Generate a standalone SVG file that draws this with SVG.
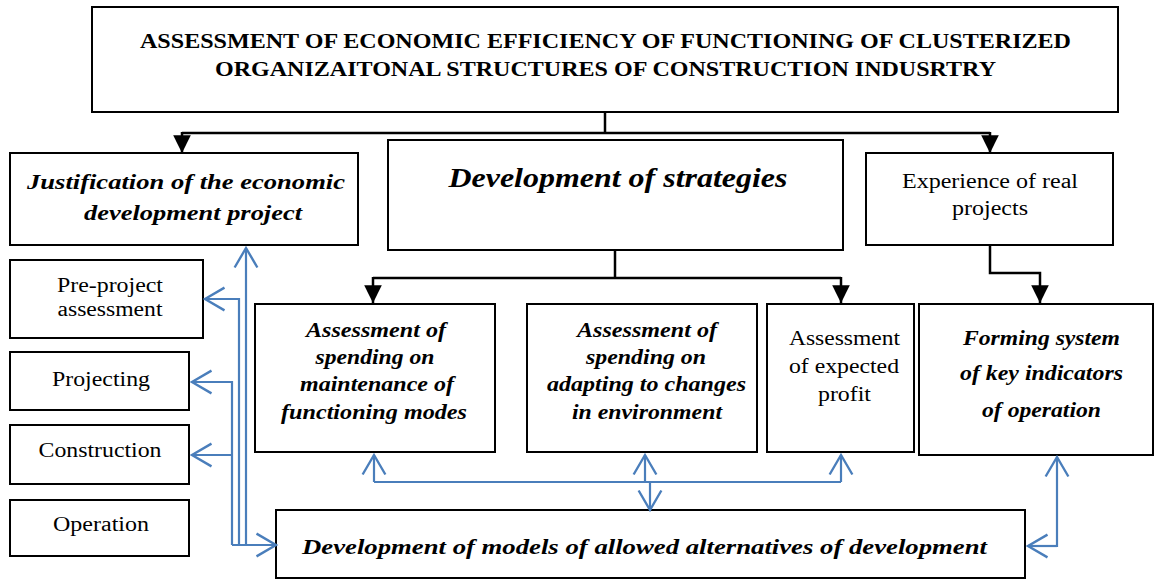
<svg xmlns="http://www.w3.org/2000/svg" width="1155" height="581" viewBox="0 0 1155 581">
<style>
.box{fill:#fff;stroke:#000;stroke-width:2}
text{font-family:"Liberation Serif","Times New Roman",serif;fill:#000;text-anchor:middle}
.t{font-weight:bold;font-size:20px}
.bi{font-weight:bold;font-style:italic}
.n{font-size:20px}
.k{fill:none;stroke:#000;stroke-width:2.5}
.b{fill:none;stroke:#4a7ebb;stroke-width:2.2}
</style>
<defs>
<marker id="ka" markerUnits="userSpaceOnUse" markerWidth="20" markerHeight="20" viewBox="-16 -8 17 16" refX="0" refY="0" orient="auto">
<path d="M-15,-7.5 L0,0 L-15,7.5 Z" fill="#000"/>
</marker>
<marker id="ba" markerUnits="userSpaceOnUse" markerWidth="24" markerHeight="26" viewBox="-20 -12 22 24" refX="0" refY="0" orient="auto" overflow="visible">
<path d="M-18,-10.5 L0,0 L-18,10.5" fill="none" stroke="#4a7ebb" stroke-width="2.2"/>
</marker>
</defs>

<g id="title">
<rect class="box" x="92" y="7" width="1026" height="105"/>
<text class="t" x="605.5" y="48" textLength="931" lengthAdjust="spacingAndGlyphs">ASSESSMENT OF ECONOMIC EFFICIENCY OF FUNCTIONING OF CLUSTERIZED</text>
<text class="t" x="605.5" y="76" textLength="781" lengthAdjust="spacingAndGlyphs">ORGANIZAITONAL STRUCTURES OF CONSTRUCTION INDUSRTRY</text>
</g>

<g id="justification">
<rect class="box" x="10" y="153" width="348" height="92"/>
<text class="bi" font-size="22" x="186" y="189" textLength="318" lengthAdjust="spacingAndGlyphs">Justification of the economic</text>
<text class="bi" font-size="22" x="193" y="220" textLength="218" lengthAdjust="spacingAndGlyphs">development project</text>
</g>

<g id="strategies">
<rect class="box" x="388" y="140" width="455" height="110"/>
<text class="bi" font-size="28" x="618" y="187" textLength="339" lengthAdjust="spacingAndGlyphs">Development of strategies</text>
</g>

<g id="experience">
<rect class="box" x="866" y="153" width="247" height="92"/>
<text class="n" x="990" y="188" textLength="176" lengthAdjust="spacingAndGlyphs">Experience of real</text>
<text class="n" x="990" y="215" textLength="76" lengthAdjust="spacingAndGlyphs">projects</text>
</g>

<g id="preproject">
<rect class="box" x="10" y="260" width="193" height="78"/>
<text class="n" x="110" y="292" textLength="106" lengthAdjust="spacingAndGlyphs">Pre-project</text>
<text class="n" x="110" y="316" textLength="105" lengthAdjust="spacingAndGlyphs">assessment</text>
</g>

<g id="projecting">
<rect class="box" x="10" y="352" width="179" height="58"/>
<text class="n" x="101" y="386" textLength="98" lengthAdjust="spacingAndGlyphs">Projecting</text>
</g>

<g id="construction">
<rect class="box" x="10" y="425" width="179" height="59"/>
<text class="n" x="100" y="457" textLength="123" lengthAdjust="spacingAndGlyphs">Construction</text>
</g>

<g id="operation">
<rect class="box" x="10" y="500" width="179" height="56"/>
<text class="n" x="101" y="531" textLength="96" lengthAdjust="spacingAndGlyphs">Operation</text>
</g>

<g id="maintenance">
<rect class="box" x="255" y="304" width="240" height="148"/>
<text class="bi" font-size="20" x="376" y="337" textLength="140" lengthAdjust="spacingAndGlyphs">Assessment of</text>
<text class="bi" font-size="20" x="375" y="364" textLength="119" lengthAdjust="spacingAndGlyphs">spending on</text>
<text class="bi" font-size="20" x="377" y="391" textLength="154" lengthAdjust="spacingAndGlyphs">maintenance of</text>
<text class="bi" font-size="20" x="374" y="419" textLength="186" lengthAdjust="spacingAndGlyphs">functioning modes</text>
</g>

<g id="adapting">
<rect class="box" x="527" y="304" width="230" height="148"/>
<text class="bi" font-size="20" x="647" y="337" textLength="140" lengthAdjust="spacingAndGlyphs">Assessment of</text>
<text class="bi" font-size="20" x="646" y="364" textLength="120" lengthAdjust="spacingAndGlyphs">spending on</text>
<text class="bi" font-size="20" x="646.5" y="391" textLength="199" lengthAdjust="spacingAndGlyphs">adapting to changes</text>
<text class="bi" font-size="20" x="647" y="419" textLength="150" lengthAdjust="spacingAndGlyphs">in environment</text>
</g>

<g id="profit">
<rect class="box" x="767" y="304" width="147" height="148"/>
<text class="n" x="844.5" y="345" textLength="111" lengthAdjust="spacingAndGlyphs">Assessment</text>
<text class="n" x="844" y="373" textLength="110" lengthAdjust="spacingAndGlyphs">of expected</text>
<text class="n" x="844.5" y="401" textLength="53" lengthAdjust="spacingAndGlyphs">profit</text>
</g>

<g id="forming">
<rect class="box" x="919" y="304" width="234" height="151"/>
<text class="bi" font-size="20" x="1041.5" y="345" textLength="157" lengthAdjust="spacingAndGlyphs">Forming system</text>
<text class="bi" font-size="20" x="1041.5" y="380" textLength="163" lengthAdjust="spacingAndGlyphs">of key indicators</text>
<text class="bi" font-size="20" x="1041.5" y="417" textLength="119" lengthAdjust="spacingAndGlyphs">of operation</text>
</g>

<g id="models">
<rect class="box" x="276" y="510" width="749" height="68"/>
<text class="bi" font-size="22" x="644.5" y="554" textLength="685" lengthAdjust="spacingAndGlyphs">Development of models of allowed alternatives of development</text>
</g>

<g id="connectors">
<path class="k" d="M605,112 V133"/>
<path class="k" d="M182,133 H990"/>
<path class="k" d="M182,132 V153" marker-end="url(#ka)"/>
<path class="k" d="M990,132 V153" marker-end="url(#ka)"/>
<path class="k" d="M615,250 V278"/>
<path class="k" d="M373,278 H841"/>
<path class="k" d="M373,277 V303" marker-end="url(#ka)"/>
<path class="k" d="M841,277 V303" marker-end="url(#ka)"/>
<path class="k" d="M990,245 V273 H1040 V303" marker-end="url(#ka)"/>

<path class="b" d="M232,545 H276" marker-end="url(#ba)"/>
<path class="b" d="M246,545 V248" marker-end="url(#ba)"/>
<path class="b" d="M239,545 V299 H205" marker-end="url(#ba)"/>
<path class="b" d="M232,545 V382 H192" marker-end="url(#ba)"/>
<path class="b" d="M232,455 H192" marker-end="url(#ba)"/>

<path class="b" d="M374,482 H841"/>
<path class="b" d="M374,482 V455" marker-end="url(#ba)"/>
<path class="b" d="M645,482 V455" marker-end="url(#ba)"/>
<path class="b" d="M841,482 V455" marker-end="url(#ba)"/>
<path class="b" d="M650,482 V510" marker-end="url(#ba)"/>
<path class="b" d="M1057,547 V457" marker-end="url(#ba)"/>
<path class="b" d="M1057,546 H1028" marker-end="url(#ba)"/>
</g>
</svg>
